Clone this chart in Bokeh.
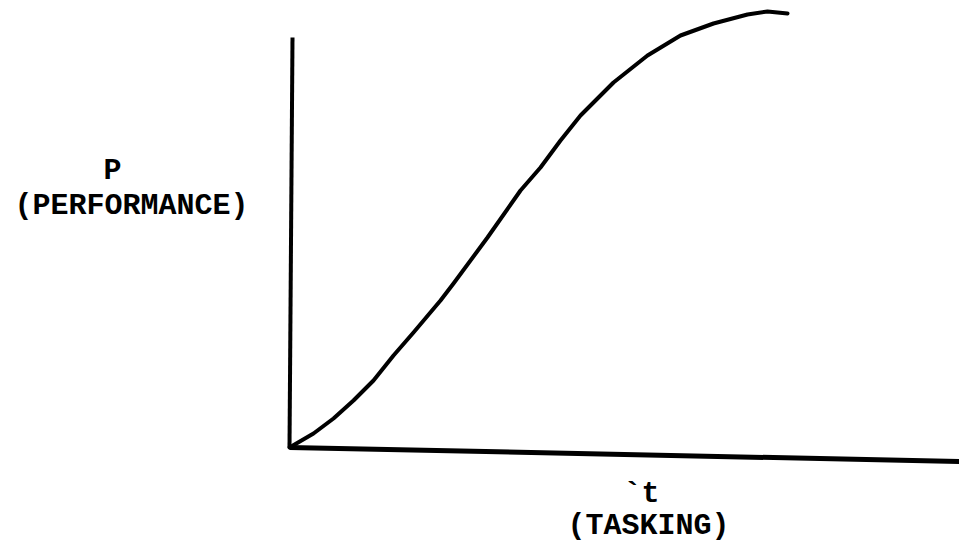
from bokeh.plotting import figure
from bokeh.models import Range1d
from bokeh.core.properties import value
from bokeh.embed import file_html
from bokeh.resources import INLINE

# Performance curve: t (tasking) vs P (performance), arbitrary units
t_vals = [0.0, 0.48, 0.88, 1.28, 1.68, 2.08, 2.48, 3.02, 3.28, 3.96, 4.62,
          5.02, 5.42, 5.82, 6.48, 7.16, 7.82, 8.48, 9.16, 9.56, 9.96]
p_vals = [0.0, 0.35, 0.725, 1.175, 1.675, 2.3, 2.875, 3.675, 4.1, 5.25, 6.425,
          7.0, 7.675, 8.3, 9.125, 9.8, 10.3, 10.6, 10.825, 10.9, 10.85]

# Axis lines (as drawn in the scan: horizontal axis droops slightly)
y_axis_t = [0.0, 0.06]
y_axis_p = [0.0, 10.25]
x_axis_t = [0.0, 13.45]
x_axis_p = [0.0, -0.35]

labels_text = ["P", "(PERFORMANCE)", "`t", "(TASKING)"]
labels_t = [-3.54, -3.16, 7.04, 7.18]
labels_p = [6.925, 6.05, -1.15, -1.95]

W, H = 959, 543
x0 = -5.78
y1 = 11.175
p = figure(width=W, height=H, output_backend="svg", toolbar_location=None,
           x_range=Range1d(x0, x0 + W / 50), y_range=Range1d(y1 - H / 40, y1),
           min_border=0, x_axis_location=None, y_axis_location=None)
p.outline_line_color = None
p.xgrid.visible = False
p.ygrid.visible = False
p.background_fill_color = "white"
p.border_fill_color = "white"

p.line(y_axis_t, y_axis_p, line_color="black", line_width=4, line_cap="butt")
p.line(x_axis_t, x_axis_p, line_color="black", line_width=5, line_cap="butt")
p.line(t_vals, p_vals, line_color="black", line_width=4, line_cap="round",
       line_join="round")

p.text(x=labels_t, y=labels_p, text=labels_text, text_align="center",
       text_baseline="alphabetic", text_font=value("Liberation Mono"),
       text_font_size="30px", text_font_style="bold", text_color="black")

open("out.html", "w").write(file_html(p, INLINE))
